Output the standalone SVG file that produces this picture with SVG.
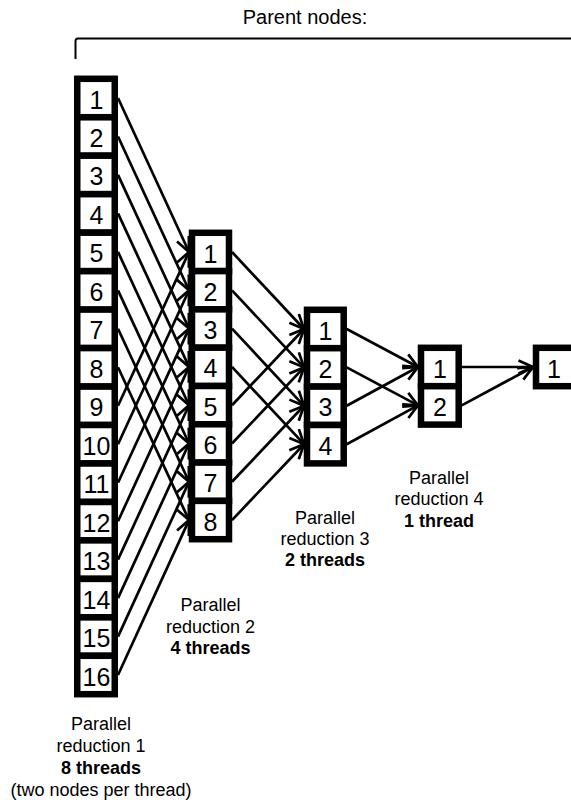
<svg xmlns="http://www.w3.org/2000/svg" width="571" height="802" viewBox="0 0 571 802">
<defs>
<style>
.box{fill:#fff;stroke:#000;stroke-width:6.5}
.num{font-family:"Liberation Sans",Arial,sans-serif;font-size:25px;text-anchor:middle;fill:#000}
.lbl{font-family:"Liberation Sans",Arial,sans-serif;font-size:18px;text-anchor:middle;fill:#000}
.b{font-weight:bold}
.con line{stroke:#000;stroke-width:2.7;marker-end:url(#arr)}
</style>
<marker id="arr" markerUnits="userSpaceOnUse" orient="auto" refX="0" refY="0" markerWidth="20" markerHeight="20" overflow="visible">
<path d="M-14.5,-6.5 L0,0 L-14.5,6.5" fill="none" stroke="#000" stroke-width="2.7"/>
</marker>
</defs>
<rect width="571" height="802" fill="#fff"/>
<g id="title">
<text class="lbl" x="305" y="24" style="font-size:20px">Parent nodes:</text>
<path d="M75.5,59 L75.5,41 Q75.5,38.5 78,38.5 L575,38.5" fill="none" stroke="#000" stroke-width="2"/>
</g>
<g id="connectors" class="con">
<line x1="118" y1="98" x2="189" y2="252"/>
<line x1="118" y1="136.5" x2="189" y2="290.3"/>
<line x1="118" y1="174.9" x2="189" y2="328.6"/>
<line x1="118" y1="213.4" x2="189" y2="366.9"/>
<line x1="118" y1="251.9" x2="189" y2="405.2"/>
<line x1="118" y1="290.4" x2="189" y2="443.5"/>
<line x1="118" y1="328.8" x2="189" y2="481.8"/>
<line x1="118" y1="367.3" x2="189" y2="520.1"/>
<line x1="118" y1="405.8" x2="189" y2="252"/>
<line x1="118" y1="444.2" x2="189" y2="290.3"/>
<line x1="118" y1="482.7" x2="189" y2="328.6"/>
<line x1="118" y1="521.2" x2="189" y2="366.9"/>
<line x1="118" y1="559.6" x2="189" y2="405.2"/>
<line x1="118" y1="598.1" x2="189" y2="443.5"/>
<line x1="118" y1="636.6" x2="189" y2="481.8"/>
<line x1="118" y1="675" x2="189" y2="520.1"/>
<line x1="232" y1="252" x2="304" y2="329"/>
<line x1="232" y1="290.3" x2="304" y2="367.4"/>
<line x1="232" y1="328.6" x2="304" y2="405.8"/>
<line x1="232" y1="366.9" x2="304" y2="444.2"/>
<line x1="232" y1="405.2" x2="304" y2="329"/>
<line x1="232" y1="443.5" x2="304" y2="367.4"/>
<line x1="232" y1="481.8" x2="304" y2="405.8"/>
<line x1="232" y1="520.1" x2="304" y2="444.2"/>
<line x1="346.7" y1="329" x2="418" y2="367"/>
<line x1="346.7" y1="367.4" x2="418" y2="405.4"/>
<line x1="346.7" y1="405.8" x2="418" y2="367"/>
<line x1="346.7" y1="444.2" x2="418" y2="405.4"/>
<line x1="461.7" y1="367" x2="533" y2="367"/>
<line x1="461.7" y1="405.4" x2="533" y2="367"/>
</g>
<g id="c1n1"><rect class="box" x="77.25" y="78.8" width="37.5" height="38.4"/><text class="num" x="96.5" y="108.5">1</text></g>
<g id="c1n2"><rect class="box" x="77.25" y="117.3" width="37.5" height="38.4"/><text class="num" x="96.5" y="147">2</text></g>
<g id="c1n3"><rect class="box" x="77.25" y="155.7" width="37.5" height="38.4"/><text class="num" x="96.5" y="185.4">3</text></g>
<g id="c1n4"><rect class="box" x="77.25" y="194.2" width="37.5" height="38.4"/><text class="num" x="96.5" y="223.9">4</text></g>
<g id="c1n5"><rect class="box" x="77.25" y="232.7" width="37.5" height="38.4"/><text class="num" x="96.5" y="262.4">5</text></g>
<g id="c1n6"><rect class="box" x="77.25" y="271.2" width="37.5" height="38.4"/><text class="num" x="96.5" y="300.9">6</text></g>
<g id="c1n7"><rect class="box" x="77.25" y="309.6" width="37.5" height="38.4"/><text class="num" x="96.5" y="339.3">7</text></g>
<g id="c1n8"><rect class="box" x="77.25" y="348.1" width="37.5" height="38.4"/><text class="num" x="96.5" y="377.8">8</text></g>
<g id="c1n9"><rect class="box" x="77.25" y="386.6" width="37.5" height="38.4"/><text class="num" x="96.5" y="416.3">9</text></g>
<g id="c1n10"><rect class="box" x="77.25" y="425" width="37.5" height="38.4"/><text class="num" x="96.5" y="454.7">10</text></g>
<g id="c1n11"><rect class="box" x="77.25" y="463.5" width="37.5" height="38.4"/><text class="num" x="96.5" y="493.2">11</text></g>
<g id="c1n12"><rect class="box" x="77.25" y="502" width="37.5" height="38.4"/><text class="num" x="96.5" y="531.7">12</text></g>
<g id="c1n13"><rect class="box" x="77.25" y="540.4" width="37.5" height="38.4"/><text class="num" x="96.5" y="570.1">13</text></g>
<g id="c1n14"><rect class="box" x="77.25" y="578.9" width="37.5" height="38.4"/><text class="num" x="96.5" y="608.6">14</text></g>
<g id="c1n15"><rect class="box" x="77.25" y="617.4" width="37.5" height="38.4"/><text class="num" x="96.5" y="647.1">15</text></g>
<g id="c1n16"><rect class="box" x="77.25" y="655.8" width="37.5" height="38.4"/><text class="num" x="96.5" y="685.5">16</text></g>
<g id="c2n1"><rect class="box" x="192" y="232.8" width="37" height="38.3"/><text class="num" x="210.5" y="262.5">1</text></g>
<g id="c2n2"><rect class="box" x="192" y="271.1" width="37" height="38.3"/><text class="num" x="210.5" y="300.8">2</text></g>
<g id="c2n3"><rect class="box" x="192" y="309.4" width="37" height="38.3"/><text class="num" x="210.5" y="339.1">3</text></g>
<g id="c2n4"><rect class="box" x="192" y="347.7" width="37" height="38.3"/><text class="num" x="210.5" y="377.4">4</text></g>
<g id="c2n5"><rect class="box" x="192" y="386" width="37" height="38.3"/><text class="num" x="210.5" y="415.7">5</text></g>
<g id="c2n6"><rect class="box" x="192" y="424.3" width="37" height="38.3"/><text class="num" x="210.5" y="454">6</text></g>
<g id="c2n7"><rect class="box" x="192" y="462.6" width="37" height="38.3"/><text class="num" x="210.5" y="492.3">7</text></g>
<g id="c2n8"><rect class="box" x="192" y="500.9" width="37" height="38.3"/><text class="num" x="210.5" y="530.6">8</text></g>
<g id="c3n1"><rect class="box" x="307" y="309.8" width="36.7" height="38.4"/><text class="num" x="325.5" y="339.5">1</text></g>
<g id="c3n2"><rect class="box" x="307" y="348.2" width="36.7" height="38.4"/><text class="num" x="325.5" y="377.9">2</text></g>
<g id="c3n3"><rect class="box" x="307" y="386.6" width="36.7" height="38.4"/><text class="num" x="325.5" y="416.3">3</text></g>
<g id="c3n4"><rect class="box" x="307" y="425" width="36.7" height="38.4"/><text class="num" x="325.5" y="454.7">4</text></g>
<g id="c4n1"><rect class="box" x="421" y="347.8" width="37.7" height="38.4"/><text class="num" x="440" y="377.5">1</text></g>
<g id="c4n2"><rect class="box" x="421" y="386.2" width="37.7" height="38.4"/><text class="num" x="440" y="415.9">2</text></g>
<g id="c5n1"><rect class="box" x="536" y="347.8" width="45" height="38.4"/><text class="num" x="554" y="377.5">1</text></g>
<g id="label1">
<text class="lbl" x="101" y="730">Parallel</text>
<text class="lbl" x="101" y="752">reduction 1</text>
<text class="lbl b" x="101" y="774">8 threads</text>
<text class="lbl" x="101" y="796">(two nodes per thread)</text>
</g>
<g id="label2">
<text class="lbl" x="210.5" y="611">Parallel</text>
<text class="lbl" x="210.5" y="633">reduction 2</text>
<text class="lbl b" x="210.5" y="654">4 threads</text>
</g>
<g id="label3">
<text class="lbl" x="325" y="524">Parallel</text>
<text class="lbl" x="325" y="545">reduction 3</text>
<text class="lbl b" x="325" y="566">2 threads</text>
</g>
<g id="label4">
<text class="lbl" x="439" y="484">Parallel</text>
<text class="lbl" x="439" y="505">reduction 4</text>
<text class="lbl b" x="439" y="527">1 thread</text>
</g>
</svg>
